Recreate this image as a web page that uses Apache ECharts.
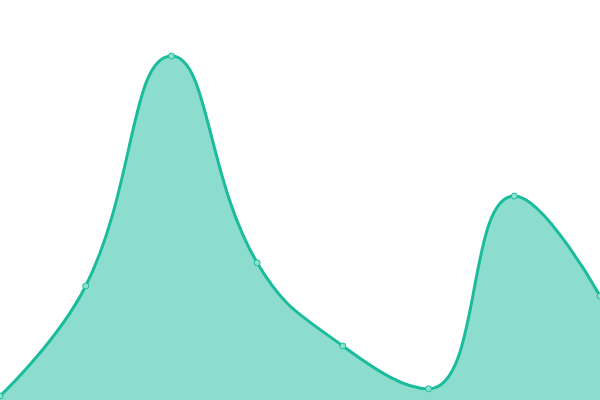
<!DOCTYPE html>
<html>
<head>
<meta charset="utf-8">
<script src="https://cdn.jsdelivr.net/npm/echarts@6/dist/echarts.min.js"></script>
<style>
html, body { margin: 0; padding: 0; background: #fff; }
#chart { width: 600px; height: 400px; }
</style>
</head>
<body>
<div id="chart"></div>
<script>
// data
var categories = ['1', '2', '3', '4', '5', '6', '7', '8'];
var values = [1, 28.5, 86, 34.3, 13.5, 2.8, 51, 26];

var myChart = echarts.init(document.getElementById('chart'));

var option = {
	animation: false,
	grid: { left: 0, right: 0, top: 0, bottom: 0 },
	xAxis: {
		type: 'category',
		data: categories,
		boundaryGap: false,
		show: false
	},
	yAxis: {
		type: 'value',
		min: 0,
		max: 100,
		show: false
	},
	series: [{
		type: 'line',
		data: values,
		smooth: 0.45,
		symbol: 'circle',
		symbolSize: 6,
		lineStyle: { color: '#1abc9c', width: 3 },
		itemStyle: { color: '#8ee0cf', borderColor: '#1abc9c', borderWidth: 1 },
		areaStyle: { color: '#1abc9c', opacity: 0.5 }
	}]
};

myChart.setOption(option);
</script>
</body>
</html>
